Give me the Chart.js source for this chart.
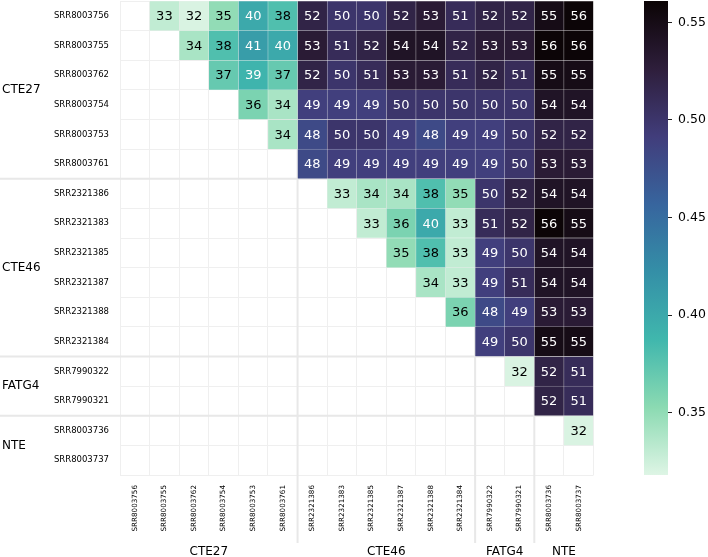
<!DOCTYPE html>
<html lang="en">
<head>
<meta charset="UTF-8">
<title>Heatmap</title>
<script src="https://cdn.jsdelivr.net/npm/chart.js@4.4.0/dist/chart.umd.min.js"></script>
<style>
    body { margin: 0; background: #fff; }
    #wrap { position: relative; width: 708px; height: 557px; }
    #heat { position: absolute; left: 0; top: 0; }
    #cbar { position: absolute; left: 600px; top: 0; }
</style>
</head>
<body>
<div id="wrap">
    <canvas id="heat" width="600" height="557"></canvas>
    <canvas id="cbar" width="108" height="557"></canvas>
</div>
<script>
    var samples = ['SRR8003756', 'SRR8003755', 'SRR8003762', 'SRR8003754', 'SRR8003753', 'SRR8003761',
        'SRR2321386', 'SRR2321383', 'SRR2321385', 'SRR2321387', 'SRR2321388', 'SRR2321384',
        'SRR7990322', 'SRR7990321', 'SRR8003736', 'SRR8003737'];
    var groupNames = ['CTE27', 'CTE46', 'FATG4', 'NTE'];
    var groupSizes = [6, 6, 2, 2];

    // upper triangle, row i = columns i+1..15, values x100
    var r0 = [33, 32, 35, 40, 38, 52, 50, 50, 52, 53, 51, 52, 52, 55, 56];
    var r1 = [34, 38, 41, 40, 53, 51, 52, 54, 54, 52, 53, 53, 56, 56];
    var r2 = [37, 39, 37, 52, 50, 51, 53, 53, 51, 52, 51, 55, 55];
    var r3 = [36, 34, 49, 49, 49, 50, 50, 50, 50, 50, 54, 54];
    var r4 = [34, 48, 50, 50, 49, 48, 49, 49, 50, 52, 52];
    var r5 = [48, 49, 49, 49, 49, 49, 49, 50, 53, 53];
    var r6 = [33, 34, 34, 38, 35, 50, 52, 54, 54];
    var r7 = [33, 36, 40, 33, 51, 52, 56, 55];
    var r8 = [35, 38, 33, 49, 50, 54, 54];
    var r9 = [34, 33, 49, 51, 54, 54];
    var r10 = [36, 48, 49, 53, 53];
    var r11 = [49, 50, 55, 55];
    var r12 = [32, 52, 51];
    var r13 = [52, 51];
    var r14 = [32];
    var r15 = [];
    var rows = [r0, r1, r2, r3, r4, r5, r6, r7, r8, r9, r10, r11, r12, r13, r14, r15];

    var cbarMin = 0.318;
    var cbarMax = 0.561;
    var cbarTicks = [0.35, 0.40, 0.45, 0.50, 0.55];

    // mako_r
    var cmapStops = [
        [0, [222, 245, 229]],
        [0.143, [139, 218, 178]],
        [0.286, [64, 183, 173]],
        [0.429, [52, 143, 167]],
        [0.571, [55, 101, 158]],
        [0.714, [65, 61, 123]],
        [0.857, [46, 30, 59]],
        [1, [11, 4, 5]]
    ];

    Chart.defaults.font.family = '"DejaVu Sans", sans-serif';
    Chart.defaults.color = '#000';

    function cellValue(i, j) {
        if (j <= i) return null;
        var v = rows[i][j - i - 1];
        return v === undefined ? null : v;
    }

    function cmap(v) {
        var t = (v - cbarMin) / (cbarMax - cbarMin);
        t = Math.max(0, Math.min(1, t));
        for (var k = 1; k < cmapStops.length; k++) {
            if (t <= cmapStops[k][0]) {
                var a = cmapStops[k - 1], b = cmapStops[k];
                var f = (t - a[0]) / (b[0] - a[0]);
                return a[1].map(function (c, n) { return Math.round(c + (b[1][n] - c) * f); });
            }
        }
        return cmapStops[cmapStops.length - 1][1];
    }

    function rgb(c) { return 'rgb(' + c[0] + ',' + c[1] + ',' + c[2] + ')'; }

    function textColor(v) {
        var lin = cmap(v / 100).map(function (c) {
            c = c / 255;
            return c <= 0.03928 ? c / 12.92 : Math.pow((c + 0.055) / 1.055, 2.4);
        });
        var lum = 0.2126 * lin[0] + 0.7152 * lin[1] + 0.0722 * lin[2];
        return lum > 0.408 ? '#000' : '#fff';
    }

    // no extra padding from tick labels, the chart area is set by layout only
    function noPad(s) {
        s.paddingTop = 0; s.paddingBottom = 0; s.paddingLeft = 0; s.paddingRight = 0;
    }

    var datasets = samples.map(function (s, j) {
        return {
            data: samples.map(function (r, i) { return cellValue(i, j) === null ? null : [j, j + 1]; }),
            backgroundColor: function (ctx) {
                var v = cellValue(ctx.dataIndex, j);
                return v === null ? 'rgba(0,0,0,0)' : rgb(cmap(v / 100));
            },
            borderColor: 'rgba(235,235,235,0.25)',
            borderWidth: 0.5,
            borderSkipped: false,
            barPercentage: 1,
            categoryPercentage: 1
        };
    });

    var cellText = {
        id: 'cellText',
        afterDatasetsDraw: function (chart) {
            var c = chart.ctx;
            c.save();
            c.font = '13px "DejaVu Sans"';
            c.textAlign = 'center';
            c.textBaseline = 'middle';
            chart.data.datasets.forEach(function (ds, j) {
                chart.getDatasetMeta(j).data.forEach(function (el, i) {
                    var v = cellValue(i, j);
                    if (v === null) return;
                    c.fillStyle = textColor(v);
                    c.fillText(String(v), (el.x + el.base) / 2, el.y + 1);
                });
            });
            c.restore();
        }
    };

    var groups = {
        id: 'groups',
        beforeDatasetsDraw: function (chart) {
            var c = chart.ctx, x = chart.scales.x, y = chart.scales.y, area = chart.chartArea;
            c.save();
            c.strokeStyle = '#e8e8e8';
            c.lineWidth = 2;
            var pos = 0;
            groupSizes.slice(0, -1).forEach(function (n) {
                pos += n;
                var py = (y.getPixelForValue(pos - 1) + y.getPixelForValue(pos)) / 2;
                var px = x.getPixelForValue(pos);
                c.beginPath();
                c.moveTo(0, py); c.lineTo(area.right, py);
                c.moveTo(px, area.top); c.lineTo(px, chart.height - 14);
                c.stroke();
            });
            c.restore();
        },
        afterDraw: function (chart) {
            var c = chart.ctx, x = chart.scales.x, y = chart.scales.y;
            c.save();
            c.font = '12px "DejaVu Sans"';
            c.fillStyle = '#000';
            c.textBaseline = 'middle';
            var pos = 0;
            groupNames.forEach(function (g, k) {
                var a = pos, b = pos + groupSizes[k];
                pos = b;
                var cy = (y.getPixelForValue(a) + y.getPixelForValue(b - 1)) / 2;
                c.textAlign = 'left';
                c.fillText(g, 2, cy);
                c.textAlign = 'center';
                c.fillText(g, x.getPixelForValue((a + b) / 2), 552);
            });
            c.restore();
        }
    };

    new Chart(document.getElementById('heat'), {
        type: 'bar',
        data: { labels: samples, datasets: datasets },
        plugins: [groups, cellText],
        options: {
            indexAxis: 'y',
            responsive: false,
            animation: false,
            layout: { padding: { top: 1, right: 6.5 } },
            plugins: { legend: { display: false }, tooltip: { enabled: false } },
            scales: {
                x: { type: 'linear', min: 0, max: 16, stacked: false, display: false },
                x2: {
                    type: 'category', labels: samples, position: 'bottom', offset: true,
                    grid: { offset: true, color: '#efefef', drawTicks: false },
                    border: { display: false },
                    ticks: { autoSkip: false, minRotation: 90, maxRotation: 90, padding: 10, font: { size: 7.2 } },
                    afterFit: function (s) { s.height = 82; noPad(s); }
                },
                y: {
                    type: 'category', stacked: true, offset: true,
                    grid: { offset: true, color: '#efefef', drawTicks: false },
                    border: { display: false },
                    ticks: { autoSkip: false, padding: 11, font: { size: 8.5 } },
                    afterFit: function (s) { s.width = 120; noPad(s); }
                }
            }
        }
    });

    new Chart(document.getElementById('cbar'), {
        type: 'bar',
        data: {
            labels: [''],
            datasets: [{
                data: [[cbarMin, cbarMax]],
                backgroundColor: function (ctx) {
                    var ch = ctx.chart, s = ch.scales.y;
                    if (!ch.chartArea || !s) return '#fff';
                    var g = ch.ctx.createLinearGradient(0, s.getPixelForValue(cbarMin), 0, s.getPixelForValue(cbarMax));
                    cmapStops.forEach(function (st) { g.addColorStop(st[0], rgb(st[1])); });
                    return g;
                },
                borderWidth: 0,
                barPercentage: 1,
                categoryPercentage: 1
            }]
        },
        options: {
            responsive: false,
            animation: false,
            layout: { padding: { left: 44, top: 1, bottom: 82 } },
            plugins: { legend: { display: false }, tooltip: { enabled: false } },
            scales: {
                x: { display: false },
                y: {
                    position: 'right', min: cbarMin, max: cbarMax,
                    afterBuildTicks: function (s) { s.ticks = cbarTicks.map(function (v) { return { value: v }; }); },
                    afterFit: function (s) { s.width = 40; noPad(s); },
                    grid: { drawOnChartArea: false, color: '#222', tickLength: 4, lineWidth: 1 },
                    border: { display: false },
                    ticks: { padding: 6, font: { size: 12.5 }, callback: function (v) { return v.toFixed(2); } }
                }
            }
        }
    });
</script>
</body>
</html>
